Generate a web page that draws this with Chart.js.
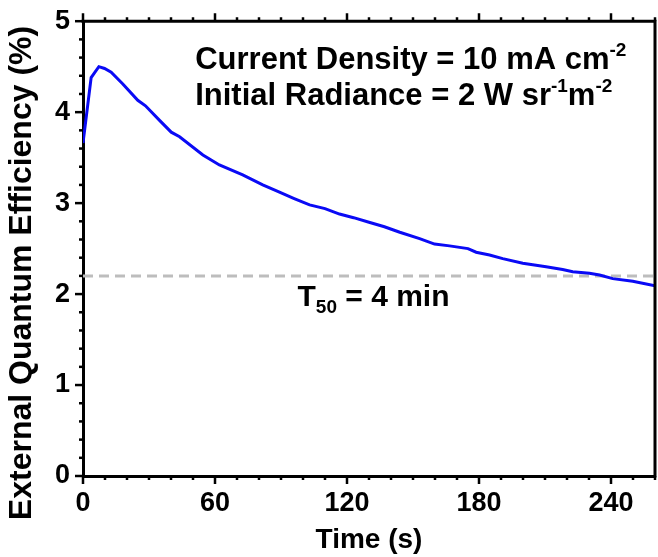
<!DOCTYPE html>
<html>
<head>
<meta charset="utf-8">
<script src="https://cdn.jsdelivr.net/npm/chart.js@4.4.1/dist/chart.umd.min.js"></script>
<style>
  html, body { margin: 0; padding: 0; background: #fff; }
  #wrap { width: 658px; height: 557px; }
</style>
</head>
<body>
<div id="wrap"><canvas id="eqeChart" width="658" height="557"></canvas></div>
<script>
// EQE stability data
const timeSec = [0, 3.7, 7.2, 9.8, 12.8, 18.1, 24.9, 28.4, 34.8, 40.1, 43.9, 54.5, 62, 72.6, 81.7, 89.3,
                 96, 103, 110, 116.6, 123, 130, 137, 144, 153, 159.8, 166.6, 175, 178.7, 184.8, 190.8,
                 199.9, 210.5, 218, 222.6, 230.2, 234.8, 240.8, 249.9, 260];
const eqe = [3.66, 4.38, 4.50, 4.48, 4.44, 4.31, 4.13, 4.07, 3.91, 3.78, 3.73, 3.53, 3.42, 3.31, 3.20, 3.12,
             3.05, 2.98, 2.94, 2.88, 2.84, 2.79, 2.74, 2.68, 2.61, 2.55, 2.53, 2.50, 2.46, 2.43, 2.39,
             2.34, 2.30, 2.27, 2.245, 2.23, 2.21, 2.17, 2.14, 2.09];
const t50Level = 2.2;
const xTickLabels = [0, 60, 120, 180, 240];
const yTickLabels = [0, 1, 2, 3, 4, 5];

const FONT = '"Liberation Sans", Arial, sans-serif';

// frame, ticks, y title and the text notes
const framePlugin = {
    id: 'frame',
    afterDraw(chart) {
        const { ctx, chartArea: a, scales: { x, y } } = chart;
        ctx.save();
        ctx.strokeStyle = '#000';
        ctx.lineWidth = 3;
        ctx.beginPath();
        ctx.moveTo(a.left - 1.5, a.top);
        ctx.lineTo(a.right, a.top);
        ctx.lineTo(a.right, a.bottom + 1.5);
        ctx.stroke();

        ctx.lineWidth = 2.5;
        x.ticks.forEach(t => {
            const px = x.getPixelForValue(t.value);
            const len = xTickLabels.includes(t.value) ? 8 : 4;
            ctx.beginPath();
            ctx.moveTo(px, a.bottom);
            ctx.lineTo(px, a.bottom + len);
            ctx.moveTo(px, a.top);
            ctx.lineTo(px, a.top - len);
            ctx.stroke();
        });
        y.ticks.forEach(t => {
            const py = y.getPixelForValue(t.value);
            const major = Math.abs(t.value - Math.round(t.value)) < 1e-6;
            const len = major ? 8 : 4;
            ctx.beginPath();
            ctx.moveTo(a.left, py);
            ctx.lineTo(a.left - len, py);
            ctx.stroke();
        });

        // y axis title
        ctx.fillStyle = '#000';
        ctx.font = 'bold 32px ' + FONT;
        ctx.textAlign = 'center';
        ctx.textBaseline = 'middle';
        ctx.translate(22, 273);
        ctx.rotate(-Math.PI / 2);
        ctx.fillText('External Quantum Efficiency (%)', 0, 0);
        ctx.restore();

        // notes
        ctx.save();
        ctx.fillStyle = '#000';
        ctx.textBaseline = 'alphabetic';
        ctx.textAlign = 'left';
        function runs(parts, px, py, size) {
            let cx = px;
            parts.forEach(([txt, kind]) => {
                ctx.font = 'bold ' + (kind ? Math.round(size * 0.62) : size) + 'px ' + FONT;
                const dy = kind === 'sup' ? -size * 0.42 : kind === 'sub' ? size * 0.22 : 0;
                ctx.fillText(txt, cx, py + dy);
                cx += ctx.measureText(txt).width;
            });
        }
        const nx = x.getPixelForValue(51);
        runs([['Current Density = 10 mA cm', null], ['-2', 'sup']], nx, y.getPixelForValue(4.47), 31);
        runs([['Initial Radiance = 2 W sr', null], ['-1', 'sup'], ['m', null], ['-2', 'sup']], nx, y.getPixelForValue(4.08), 31);
        runs([['T', null], ['50', 'sub'], [' = 4 min', null]], x.getPixelForValue(97.5), y.getPixelForValue(1.87), 30);
        ctx.restore();
    }
};

const ctx = document.getElementById('eqeChart').getContext('2d');
new Chart(ctx, {
    type: 'line',
    data: {
        datasets: [{
            label: 'EQE',
            data: timeSec.map((t, i) => ({ x: t, y: eqe[i] })),
            borderColor: '#0a0af5',
            borderWidth: 3,
            pointRadius: 0,
            tension: 0,
            fill: false
        }, {
            label: 'T50',
            data: [{ x: 0, y: t50Level }, { x: 261, y: t50Level }],
            borderColor: '#bdbdbd',
            borderWidth: 3,
            borderDash: [10, 6],
            pointRadius: 0,
            clip: false,
            fill: false
        }]
    },
    options: {
        responsive: false,
        animation: false,
        devicePixelRatio: 1,
        layout: { padding: { top: 21, right: 2, left: 0, bottom: 0 } },
        plugins: {
            legend: { display: false },
            tooltip: { enabled: false }
        },
        scales: {
            x: {
                type: 'linear',
                min: 0,
                max: 260,
                afterFit: (s) => { s.height = 81; },
                border: { display: true, width: 3, color: '#000' },
                grid: { drawOnChartArea: false, drawTicks: true, tickLength: 8, tickColor: 'rgba(0,0,0,0)' },
                ticks: {
                    stepSize: 10,
                    autoSkip: false,
                    maxRotation: 0,
                    padding: 3,
                    color: '#000',
                    font: { family: FONT, size: 27, weight: 'bold' },
                    callback: (v) => xTickLabels.includes(v) ? String(v) : ''
                },
                title: {
                    display: true,
                    text: 'Time (s)',
                    color: '#000',
                    padding: { top: 0, bottom: 0 },
                    font: { family: FONT, size: 28, weight: 'bold' }
                }
            },
            y: {
                type: 'linear',
                min: 0,
                max: 5,
                afterFit: (s) => { s.width = 83; },
                border: { display: true, width: 3, color: '#000' },
                grid: { drawOnChartArea: false, drawTicks: true, tickLength: 8, tickColor: 'rgba(0,0,0,0)' },
                ticks: {
                    stepSize: 0.2,
                    autoSkip: false,
                    padding: 5,
                    color: '#000',
                    font: { family: FONT, size: 27, weight: 'bold' },
                    callback: (v) => {
                        const r = Math.round(v);
                        return Math.abs(v - r) < 1e-6 && yTickLabels.includes(r) ? String(r) : '';
                    }
                }
            }
        }
    },
    plugins: [framePlugin]
});
</script>
</body>
</html>
